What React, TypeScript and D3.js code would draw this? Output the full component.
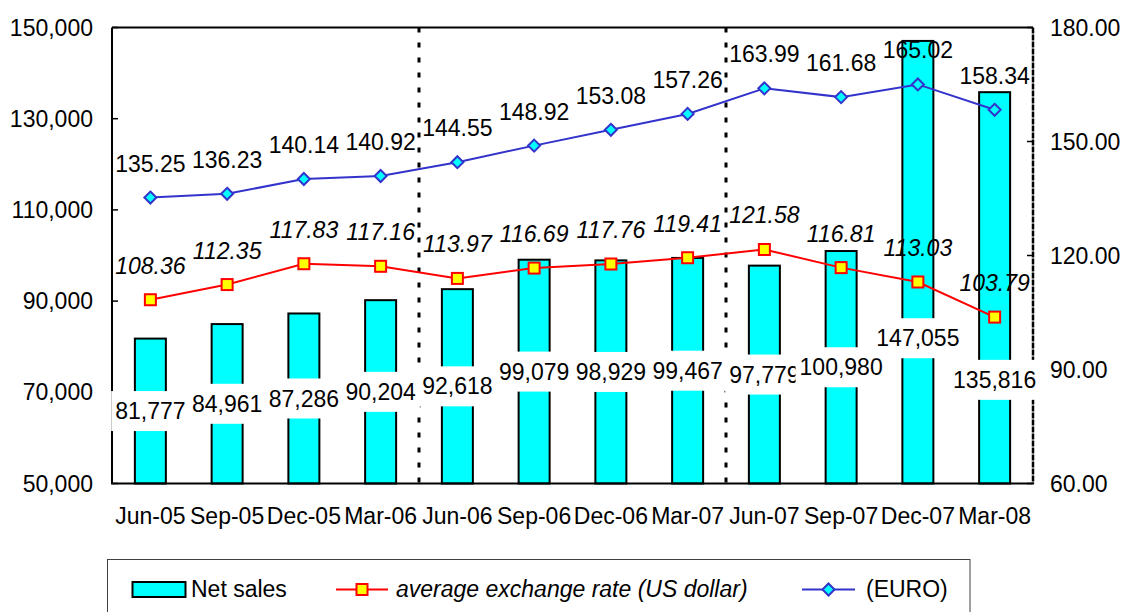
import React from "react";
import * as d3 from "d3";

const categories = ["Jun-05","Sep-05","Dec-05","Mar-06","Jun-06","Sep-06","Dec-06","Mar-07","Jun-07","Sep-07","Dec-07","Mar-08"];
const netSales = [81777,84961,87286,90204,92618,99079,98929,99467,97779,100980,147055,135816];
const usdRate = [108.36,112.35,117.83,117.16,113.97,116.69,117.76,119.41,121.58,116.81,113.03,103.79];
const euroRate = [135.25,136.23,140.14,140.92,144.55,148.92,153.08,157.26,163.99,161.68,165.02,158.34];
const leftTicks = [50000,70000,90000,110000,130000,150000];
const rightTicks = [60,90,120,150,180];
const dividerAfter = ["Mar-06","Mar-07"];

const W = 1122, H = 612;
const M = { left: 112, right: 1033, top: 27.5, bottom: 483.5 };
const FONT = "'Liberation Sans', Arial, sans-serif";
const FS = 23;
// manual label shifts (px) as in the original chart
const BAR_LABEL_NUDGE: Record<string, number> = { "Dec-07": 76, "Mar-08": 92 };

function textW(s: string, fs: number) {
  const w: Record<string, number> = { ",": .278, ".": .278 };
  let t = 0;
  for (const c of s) t += w[c] ?? .556;
  return t * fs;
}

export default function App() {
  const x = d3.scaleBand<string>().domain(categories).range([M.left, M.right]).paddingInner(0).paddingOuter(0);
  const yL = d3.scaleLinear().domain([50000, 150000]).range([M.bottom, M.top]);
  const yR = d3.scaleLinear().domain([60, 180]).range([M.bottom, M.top]);
  const bw = 31;
  const cx = (c: string) => (x(c) as number) + x.bandwidth() / 2;
  const fmtL = d3.format(",");
  const fmtR = d3.format(".2f");

  const usdLine = d3.line<number>().x((_, i) => cx(categories[i])).y(d => yR(d))(usdRate) as string;
  const euroLine = d3.line<number>().x((_, i) => cx(categories[i])).y(d => yR(d))(euroRate) as string;

  const diamond = (px: number, py: number, r: number) => `M${px},${py - r}L${px + r},${py}L${px},${py + r}L${px - r},${py}Z`;

  return (
    <svg width={W} height={H} style={{ position: "absolute", left: 0, top: 0, background: "#fff" }} fontFamily={FONT}>
      <rect x={0} y={0} width={W} height={H} fill="#fff" />
      {/* bars */}
      {categories.map((c, i) => (
        <rect key={c} x={cx(c) - bw / 2} y={yL(netSales[i])} width={bw} height={M.bottom - yL(netSales[i])} fill="#00FFFF" stroke="#000" strokeWidth={2} />
      ))}
      {/* dotted dividers */}
      {dividerAfter.map(c => {
        const xx = (x(c) as number) + x.bandwidth();
        return <line key={c} x1={xx} x2={xx} y1={M.top} y2={M.bottom} stroke="#000" strokeWidth={3} strokeDasharray="5 10" />;
      })}
      {/* axes */}
      <line x1={M.left} x2={M.right} y1={M.top} y2={M.top} stroke="#000" strokeWidth={2} />
      <line x1={M.left} x2={M.left} y1={M.top} y2={M.bottom} stroke="#000" strokeWidth={2} />
      <line x1={M.right} x2={M.right} y1={M.top} y2={M.bottom} stroke="#000" strokeWidth={2.5} strokeDasharray="6 1" />
      <line x1={M.left - 1} x2={M.right + 1} y1={M.bottom} y2={M.bottom} stroke="#000" strokeWidth={2} />
      {leftTicks.map(t => (
        <g key={t}>
          <line x1={M.left} x2={M.left + 6} y1={yL(t)} y2={yL(t)} stroke="#000" strokeWidth={1.5} />
          <text x={93} y={yL(t)} dy="0.35em" textAnchor="end" fontSize={FS} fill="#000">{fmtL(t)}</text>
        </g>
      ))}
      {rightTicks.map(t => (
        <g key={t}>
          <line x1={M.right - 6} x2={M.right} y1={yR(t)} y2={yR(t)} stroke="#000" strokeWidth={1.5} />
          <text x={1050} y={yR(t)} dy="0.35em" textAnchor="start" fontSize={FS} fill="#000">{fmtR(t)}</text>
        </g>
      ))}
      {categories.map(c => (
        <text key={c} x={cx(c)} y={524} textAnchor="middle" fontSize={FS} fill="#000">{c}</text>
      ))}
      {/* lines */}
      <path d={usdLine} fill="none" stroke="#FF0000" strokeWidth={2} />
      <path d={euroLine} fill="none" stroke="#3333CC" strokeWidth={2} />
      {usdRate.map((v, i) => (
        <rect key={"u" + i} x={cx(categories[i]) - 5.5} y={yR(v) - 5.5} width={11} height={11} fill="#FFFF00" stroke="#FF0000" strokeWidth={2} />
      ))}
      {euroRate.map((v, i) => (
        <path key={"e" + i} d={diamond(cx(categories[i]), yR(v), 6)} fill="#00FFFF" stroke="#3333CC" strokeWidth={2} />
      ))}
      {usdRate.map((v, i) => (
        <text key={"ul" + i} x={cx(categories[i])} y={yR(v) - 26} textAnchor="middle" fontSize={FS} fontStyle="italic" fill="#000">{fmtR(v)}</text>
      ))}
      {euroRate.map((v, i) => (
        <text key={"el" + i} x={cx(categories[i])} y={yR(v) - 26} textAnchor="middle" fontSize={FS} fill="#000">{fmtR(v)}</text>
      ))}
      {/* bar labels with white boxes */}
      {netSales.map((v, i) => {
        const c = categories[i];
        const s = fmtL(v);
        const tw = textW(s, FS);
        const yy = yL((v + 50000) / 2) + (BAR_LABEL_NUDGE[c] ?? 0);
        return (
          <g key={"bl" + i}>
            <rect x={cx(c) - tw / 2 - 4} y={yy - 20} width={tw + 8} height={40} fill="#fff" />
            <text x={cx(c)} y={yy} dy="0.35em" textAnchor="middle" fontSize={FS} fill="#000">{s}</text>
          </g>
        );
      })}
      {/* legend */}
      <rect x={107.5} y={559.5} width={862.5} height={70} fill="#fff" stroke="#404040" strokeWidth={1} />
      <rect x={132.5} y={582} width={53} height={15} fill="#00FFFF" stroke="#000" strokeWidth={2} />
      <text x={191} y={597} fontSize={FS} fill="#000">Net sales</text>
      <line x1={336} x2={388} y1={589.5} y2={589.5} stroke="#FF0000" strokeWidth={2} />
      <rect x={362 - 5.5} y={589.5 - 5.5} width={11} height={11} fill="#FFFF00" stroke="#FF0000" strokeWidth={2} />
      <text x={396} y={597} fontSize={FS} fontStyle="italic" fill="#000">average exchange rate (US dollar)</text>
      <line x1={802} x2={855} y1={589.5} y2={589.5} stroke="#3333CC" strokeWidth={2} />
      <path d={diamond(828.5, 589.5, 6)} fill="#00FFFF" stroke="#3333CC" strokeWidth={2} />
      <text x={866} y={597} fontSize={FS} fill="#000">(EURO)</text>
    </svg>
  );
}
